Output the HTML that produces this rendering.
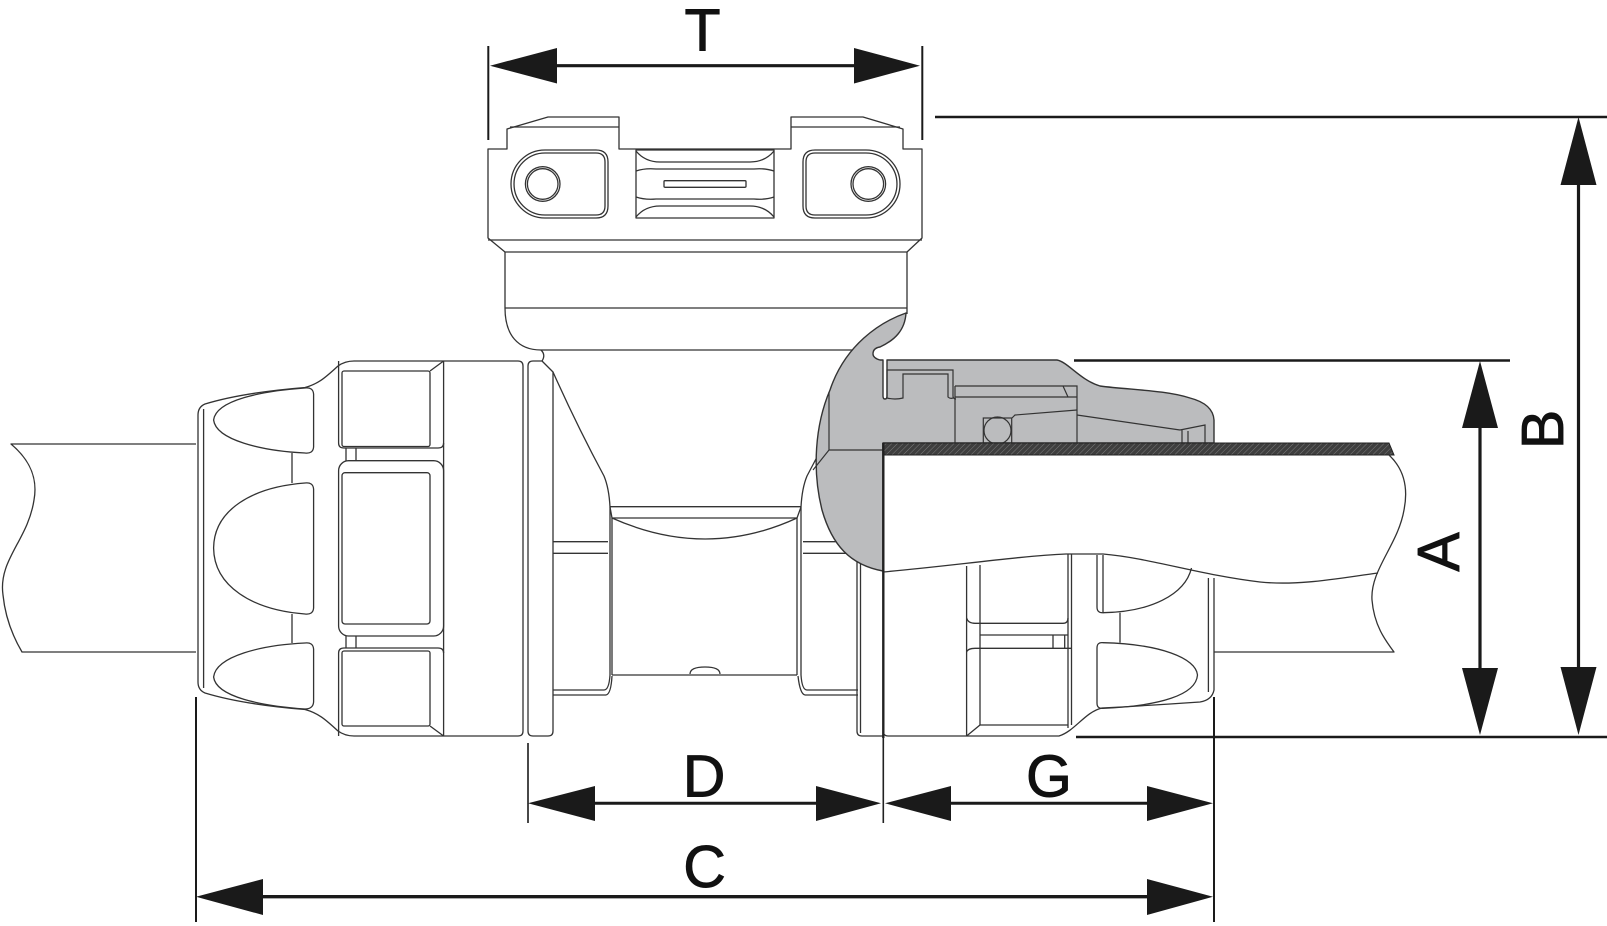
<!DOCTYPE html>
<html>
<head>
<meta charset="utf-8">
<style>
html,body{margin:0;padding:0;background:#fff;}
svg{display:block;}
text{font-family:"Liberation Sans",Arial,sans-serif;font-size:59px;fill:#111;stroke:#111;stroke-width:0.9;}
</style>
</head>
<body>
<svg width="1607" height="926" viewBox="0 0 1607 926" xmlns="http://www.w3.org/2000/svg">
<defs>
<pattern id="hatch" patternUnits="userSpaceOnUse" width="4" height="4" patternTransform="rotate(45)">
<rect width="4" height="4" fill="#3e3e3e"/>
<line x1="0" y1="0" x2="0" y2="4" stroke="#8a8a8a" stroke-width="0.8"/>
</pattern>
</defs>
<rect width="1607" height="926" fill="#fff"/>

<g fill="none" stroke="#333" stroke-width="1.3" stroke-linejoin="round">
<!-- LEFT PIPE -->
<path d="M196,444 H11 C30,460 38,478 34,500 C28,540 -2,560 3,595 C5,615 12,635 22,652 H196"/>

<!-- LEFT NUT -->
<path d="M518,361 H354 Q345,361 338,366 C325,378 318,384 305,387.5 C262,391 228,397 205,404 Q198,407 198,415 V682 Q198,690 205,693 C228,700 262,706 305,709.5 C318,713 325,719 338,731 Q345,736 354,736 H518 Q523,736 523,731 V366 Q523,361 518,361 Z"/>
<line x1="203.6" y1="409" x2="203.6" y2="688"/>
<line x1="443.6" y1="361" x2="443.6" y2="736"/>
<!-- bullets -->
<path d="M305,388 C262,391 216,400 213.6,420 C216,440 262,451 305,453"/>
<path d="M305,388 Q313,387 313.6,394 V447 Q313,454 305,453"/>
<path d="M305,483 C252,487 214,510 213.6,548 C214,586 252,610 305,614"/>
<path d="M305,483 Q313,482 313.6,489 V608 Q313,615 305,614"/>
<path d="M305,643 C262,645 216,656 213.6,677 C216,697 262,706 305,709"/>
<path d="M305,643 Q313,642 313.6,649 V702 Q313,709 305,709"/>
<line x1="292" y1="453" x2="292" y2="483"/>
<line x1="292" y1="614" x2="292" y2="643"/>
<!-- hex flats -->
<path d="M338.6,361 V443 Q338.6,448 344,448 H438 Q443.6,448 443.6,443"/>
<rect x="342" y="371" width="88" height="75.5" rx="2"/>
<line x1="430" y1="371" x2="443.6" y2="361"/>
<rect x="338.6" y="460.7" width="105" height="175.3" rx="10"/>
<rect x="342" y="472.7" width="88" height="151.3" rx="3"/>
<path d="M338.6,736 V653 Q338.6,648 344,648 H438 Q443.6,648 443.6,653"/>
<rect x="342" y="651" width="88" height="75" rx="2"/>
<line x1="430" y1="726" x2="443.6" y2="736"/>
<line x1="346" y1="448" x2="346" y2="461"/><line x1="356" y1="448" x2="356" y2="461"/>
<line x1="346" y1="636" x2="346" y2="648"/><line x1="356" y1="636" x2="356" y2="648"/>

<!-- T STUB CAP -->
<path d="M488,149 H507 V129 L548,117 H619 V149 H791 V117 H863 L903,129 V149 H922 V238 L907,252 H505 L488,238 Z"/>
<line x1="510" y1="127" x2="619" y2="127"/>
<line x1="791" y1="127" x2="900" y2="127"/>
<line x1="488" y1="240" x2="922" y2="240"/>
<!-- ovals -->
<path d="M545,150 H596 Q608,150 608,162 V206 Q608,218 596,218 H545 A34,34 0 0 1 545,150 Z"/>
<path d="M545,153 H596 Q605,153 605,162 V206 Q605,215 596,215 H545 A31,31 0 0 1 545,153 Z"/>
<circle cx="542.7" cy="184" r="17.3"/>
<circle cx="542.7" cy="184" r="15.3"/>
<path d="M866,150 H815 Q803,150 803,162 V206 Q803,218 815,218 H866 A34,34 0 0 0 866,150 Z"/>
<path d="M866,153 H815 Q806,153 806,162 V206 Q806,215 815,215 H866 A31,31 0 0 0 866,153 Z"/>
<circle cx="868.3" cy="184" r="17.3"/>
<circle cx="868.3" cy="184" r="15.3"/>
<!-- latch -->
<rect x="636" y="150" width="138" height="68"/>
<path d="M636,151 Q645,162 660,162 H750 Q765,162 774,151"/>
<path d="M636,171 Q645,168 656,169 H754 Q765,168 774,171"/>
<path d="M636,197 Q645,200 656,199 H754 Q765,200 774,197"/>
<path d="M636,217 Q645,206 660,206 H750 Q765,206 774,217"/>
<rect x="664" y="180.7" width="82" height="6.6" rx="1"/>
<!-- stub body -->
<path d="M505,252 V308 C505,335 518,350 541,350 H870"/>
<line x1="907" y1="252" x2="907" y2="314"/>
<line x1="505" y1="308" x2="907" y2="308"/>
<path d="M541,350 Q546,355 542,361"/>

<!-- T BODY LEFT FLANGE -->
<path d="M528,366 Q528,361 533,361 H542 L553,372 V731 Q553,736 548,736 H533 Q528,736 528,731 Z"/>
<!-- left shoulder -->
<path d="M553,372 C570,410 590,450 604,476 Q609,488 610,507 V675 Q609,690 604,690 H553"/>
<line x1="553" y1="695" x2="606" y2="695"/>
<path d="M606,695 Q611,694 612,676"/>
<line x1="553" y1="541.7" x2="608" y2="541.7"/>
<line x1="553" y1="553.3" x2="608" y2="553.3"/>
<!-- right shoulder -->
<path d="M858,372 C841,410 821,450 807,476 Q802,488 801,507 V675 Q802,690 807,690 H858"/>
<line x1="805" y1="695" x2="858" y2="695"/>
<path d="M805,695 Q800,694 798,676"/>
<line x1="803" y1="541.7" x2="858" y2="541.7"/>
<line x1="803" y1="553.3" x2="858" y2="553.3"/>
<!-- right flange -->
<path d="M857,372 V731 Q857,736 862,736 H883"/>
<line x1="860.5" y1="560" x2="860.5" y2="733"/>
<!-- center pipe -->
<line x1="610" y1="506.7" x2="801" y2="506.7"/>
<path d="M610,507 L612,518 Q706,560 797,518 L801,507"/>
<line x1="612" y1="518" x2="797" y2="518"/>
<line x1="612" y1="518" x2="612" y2="675"/>
<line x1="797" y1="518" x2="797" y2="675"/>
<line x1="612" y1="675" x2="797" y2="675"/>
<path d="M690,674 Q690,667 705,667 Q720,667 720,674"/>
</g>

<!-- GRAY SECTION -->
<path d="M906,313 C880,322 845,345 830,390 C815,425 812,470 822,510 C832,545 850,565 883,571 V443 H1214 V420 Q1213,404 1190,398 C1165,390 1130,390 1100,386 C1080,380 1068,362 1057,360 H887 V396 Q887,399 885,399 Q883,399 883,396 V360 H880 Q873,358 873,354 Q873,348 880,347 C895,340 905,330 906,313 Z" fill="#bbbcbe" stroke="#333" stroke-width="1.4" stroke-linejoin="round"/>
<g fill="none" stroke="#333" stroke-width="1.2">
<path d="M829,392 V450 H883 M829,450 L813,470"/>
<path d="M887,398 V370 H953 V396 Q953,399 956,399"/>
<path d="M887,398 Q895,400 903,398 V374 H948 V397 Q950,399 953,398"/>
<line x1="955" y1="386" x2="955" y2="443"/>
<path d="M955,386 H1077 V443 M955,397 H1077 M1063,386 L1068,397"/>
<path d="M1012,418 L1015,415 L1077,410 M1077,415 L1180,430"/>
<rect x="983.3" y="418" width="28.4" height="25"/>
<circle cx="997.5" cy="430.5" r="13.5"/>
<path d="M1182,430 V443 M1188,431 V443 M1180,430 L1205,425 V443"/>
</g>

<!-- PIPE WALL -->
<polygon points="883,443 1389,443 1394,455 883,455" fill="url(#hatch)" stroke="#222" stroke-width="1"/>

<g fill="none" stroke="#333" stroke-width="1.3" stroke-linejoin="round">
<!-- right pipe -->
<path d="M1389,455 C1405,470 1408,490 1404,510 C1398,545 1370,570 1372,600 C1374,625 1385,640 1394,652 H1214"/>
<path d="M883,572 C950,566 1020,556 1066,554 H1103 C1150,558 1200,575 1260,582 C1300,586 1340,578 1378,573"/>
<!-- right nut lower part -->
<path d="M883,732 Q884,736 888,736 H1059 C1075,731 1085,712 1102,708 C1140,706 1170,704 1200,702 Q1212,700 1214,690 V578"/>
<line x1="1208.4" y1="578" x2="1208.4" y2="692"/>
<line x1="966.6" y1="566" x2="966.6" y2="736"/>
<line x1="980" y1="565" x2="980" y2="725"/>
<line x1="966.6" y1="736" x2="980" y2="725"/>
<line x1="1068" y1="554" x2="1068" y2="728"/>
<line x1="1071.5" y1="554" x2="1071.5" y2="725"/>
<path d="M966.6,618 Q968,623.3 975,623.3 H1063 Q1068,623.3 1068,618"/>
<line x1="980" y1="635" x2="1068" y2="635"/>
<line x1="1053" y1="635" x2="1053" y2="648"/>
<line x1="1064.7" y1="635" x2="1064.7" y2="648"/>
<path d="M966.6,652 Q968,648.3 975,648.3 H1071.5"/>
<line x1="980" y1="725" x2="1068" y2="725"/>
<!-- right bullets -->
<path d="M1097,555 V607 Q1097,613 1103,612.7 V555"/>
<path d="M1103,612.7 C1150,612 1185,595 1191.5,568"/>
<path d="M1103,642.7 C1160,644 1196,658 1197.5,675 C1196,695 1160,706 1103,708.3"/>
<path d="M1103,642.7 Q1097,642 1097,648 V703 Q1097,709 1103,708.3"/>
<line x1="1120" y1="612.7" x2="1120" y2="642.7"/>
</g>
<!-- pipe end thick line -->
<line x1="883.3" y1="443" x2="883.3" y2="738" stroke="#222" stroke-width="2.4"/>
<line x1="883.3" y1="738" x2="883.3" y2="823" stroke="#222" stroke-width="1.6"/>

<!-- DIMENSIONS -->
<g stroke="#1a1a1a" fill="none">
<line x1="488.3" y1="46" x2="488.3" y2="140" stroke-width="2"/>
<line x1="922.3" y1="46" x2="922.3" y2="140" stroke-width="2"/>
<line x1="555" y1="65.7" x2="856" y2="65.7" stroke-width="3.2"/>

<line x1="935" y1="117" x2="1607" y2="117" stroke-width="2.6"/>
<line x1="1074" y1="360.5" x2="1510" y2="360.5" stroke-width="2.4"/>
<line x1="1076" y1="737" x2="1607" y2="737" stroke-width="2.6"/>
<line x1="1578.5" y1="183" x2="1578.5" y2="669" stroke-width="3.2"/>
<line x1="1480" y1="426" x2="1480" y2="670" stroke-width="3.2"/>

<line x1="196" y1="697" x2="196" y2="922" stroke-width="2"/>
<line x1="1214" y1="697" x2="1214" y2="922" stroke-width="2"/>
<line x1="528" y1="743" x2="528" y2="823" stroke-width="1.6"/>
<line x1="593" y1="803.3" x2="818" y2="803.3" stroke-width="3"/>
<line x1="949" y1="803.3" x2="1149" y2="803.3" stroke-width="3"/>
<line x1="261" y1="896.7" x2="1149" y2="896.7" stroke-width="3.4"/>
</g>
<g fill="#1a1a1a">
<polygon points="490,65.7 557,48 557,83.5"/>
<polygon points="920,65.7 854,48 854,83.5"/>
<polygon points="1578.5,117 1560.5,185 1596.5,185"/>
<polygon points="1578.5,735 1560.5,667 1596.5,667"/>
<polygon points="1480,361 1462,428 1498,428"/>
<polygon points="1480,735 1462,668 1498,668"/>
<polygon points="528,803.3 595,786 595,821"/>
<polygon points="881,803.3 816,786 816,821"/>
<polygon points="885,803.3 951,786 951,821"/>
<polygon points="1213,803.3 1147,786 1147,821"/>
<polygon points="196,896.7 263,879 263,915"/>
<polygon points="1213,896.7 1147,879 1147,915"/>
</g>
<text x="702.5" y="50.7" text-anchor="middle">T</text>
<text x="704" y="796.5" text-anchor="middle">D</text>
<text x="1049" y="796.5" text-anchor="middle">G</text>
<text x="704.5" y="887" text-anchor="middle">C</text>
<text transform="translate(1459,552) rotate(-90)" text-anchor="middle">A</text>
<text transform="translate(1563,429.5) rotate(-90)" text-anchor="middle">B</text>
</svg>
</body>
</html>
